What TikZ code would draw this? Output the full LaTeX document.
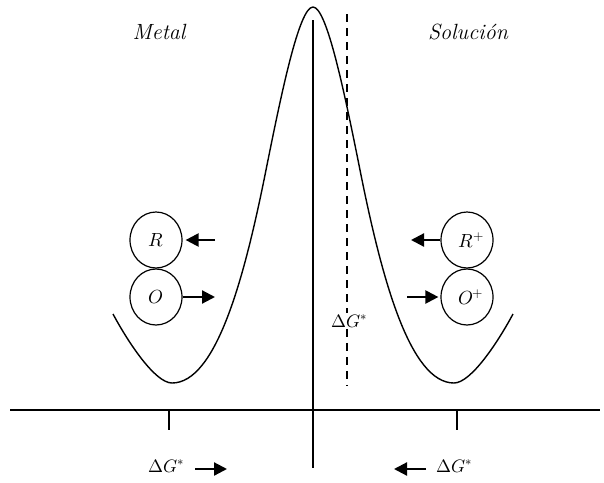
\documentclass[tikz,border=0pt]{standalone}
\usepackage{amsmath}
\usepackage{fontspec}
\usepackage{unicode-math}
\usetikzlibrary{arrows.meta,shapes.geometric}
\begin{document}
\begin{tikzpicture}[x=1pt,y=-1pt,
  >={Triangle[length=13pt,width=13pt]},
  ax/.style={line width=1.8pt},
  ball/.style={draw,ellipse,line width=1.2pt,minimum width=52pt,minimum height=56pt,inner sep=0pt,
               font=\fontsize{19}{21}\selectfont},
  ar/.style={->,line width=2.2pt},
  lb/.style={font=\fontsize{18}{20}\selectfont,inner sep=1pt},
  side/.style={font=\fontsize{22}{24}\selectfont\itshape,inner sep=1pt},
  ds/.style={line width=1.3pt,dash pattern=on 8pt off 6pt},
]
\useasboundingbox (0,0) rectangle (604,482);
% axes
\coordinate (xl) at (10,410);  \coordinate (xr) at (600,410);
\coordinate (yt) at (313,20);  \coordinate (yb) at (313,468);
\draw[ax] (xl) -- (xr);
\draw[ax] (yt) -- (yb);
\draw[ax] (169,410) -- (169,430);
\draw[ax] (457,410) -- (457,430);

% energy curve
\draw[line width=1.4pt] (113,314) .. controls (128,342) and (155,383) .. (172,383)
  .. controls (216,383) and (244,279) .. (265,175)
  .. controls (281,95) and (299,7) .. (313,7)
  .. controls (327,7) and (345,95) .. (361,175)
  .. controls (382,279) and (410,383) .. (454,383)
  .. controls (471,383) and (498,342) .. (513,314);

% side labels
\node[side] (metal) at (159,32) {Metal};
\node[side] (sol) at (468,32) {Solución};

% dashed line with label
\node[lb] (dG) at (349,321) {$\Delta G^{*}$};
\coordinate (dtop) at (347,14);
\coordinate (dbot) at (347,385);
\draw[ds] (dtop) -- (dtop |- dG.north);
\draw[ds] (dtop |- dG.south) -- (dbot);

% metal side
\node[ball] (R) at (156,240) {$R$};
\node[ball] (O) at (156,297) {$O$};
\coordinate (Rin) at (215,240);
\coordinate (Oout) at (215,297);
\draw[ar] (Rin) -- ([xshift=3pt]R.east);
\draw[ar] (O.east) -- (Oout);

% solution side
\node[ball] (Rp) at (467,240) {\hspace*{8pt}$R^{+}$};
\node[ball] (Op) at (467,297) {\hspace*{8pt}$O^{+}$};
\coordinate (Rpout) at (411,240);
\coordinate (Opin) at (407,297);
\draw[ar] (Rp.west) -- (Rpout);
\draw[ar] (Opin) -- ([xshift=-2pt]Op.west);

% bottom labels
\node[lb] (dGl) at (166,466) {$\Delta G^{*}$};
\node[lb] (dGr) at (454,466) {$\Delta G^{*}$};
\coordinate (bl1) at (195,469); \coordinate (bl2) at (227,469);
\coordinate (br1) at (426,469); \coordinate (br2) at (394,469);
\draw[ar] (bl1) -- (bl2);
\draw[ar] (br1) -- (br2);
\end{tikzpicture}
\end{document}
